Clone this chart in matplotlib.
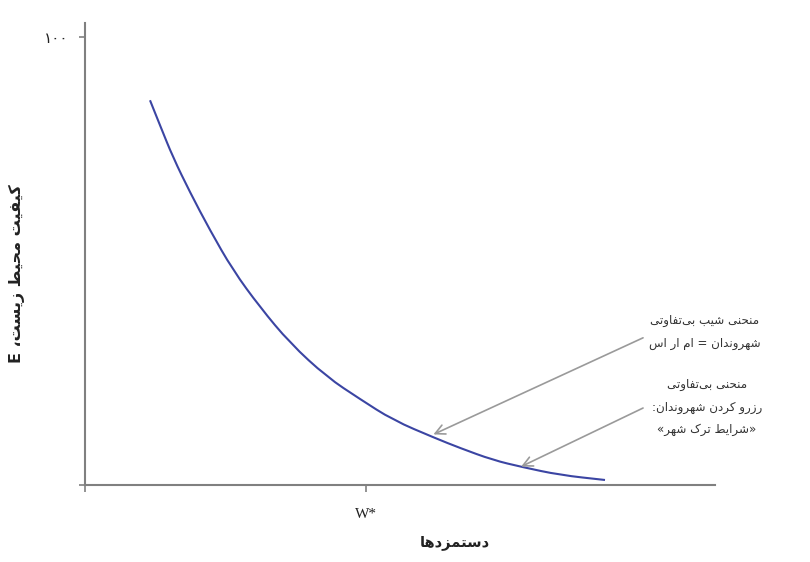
import matplotlib
matplotlib.use('Agg')
import matplotlib.pyplot as plt
from matplotlib.path import Path
from matplotlib.patches import PathPatch

# ---------------- data ----------------
wage = [11.57, 13.47, 15.66, 18.68, 22.24, 26.33, 31.14, 36.48, 43.06, 48.93, 54.80,
        62.28, 66.73, 72.60, 77.76, 84.52, 92.53]
env = [85.92, 79.96, 73.18, 65.36, 56.87, 47.93, 39.66, 31.62, 24.02, 19.11, 14.41,
       10.39, 8.16, 5.47, 3.91, 2.12, 1.01]
x_ticks = [0, 50]
x_tick_labels = ['', 'W*']
y_ticks = [0, 100]
y_tick_labels = ['', '۱۰۰']
x_label = 'دستمزدها'
y_label = 'کیفیت محیط زیست، E'
note1 = ['منحنی شیب بی‌تفاوتی', 'شهروندان = ام ار اس']
note2 = ['منحنی بی‌تفاوتی', 'رزرو کردن شهروندان:', '«شرایط ترک شهر»']

# ---------------- minimal Persian shaping (visual order) ----------------
FORMS = {
    '\u0627': ('\uFE8D', '\uFE8E', None, None),
    '\u0628': ('\uFE8F', '\uFE90', '\uFE91', '\uFE92'),
    '\u062A': ('\uFE95', '\uFE96', '\uFE97', '\uFE98'),
    '\u062D': ('\uFEA1', '\uFEA2', '\uFEA3', '\uFEA4'),
    '\u062F': ('\uFEA9', '\uFEAA', None, None),
    '\u0631': ('\uFEAD', '\uFEAE', None, None),
    '\u0632': ('\uFEAF', '\uFEB0', None, None),
    '\u0633': ('\uFEB1', '\uFEB2', '\uFEB3', '\uFEB4'),
    '\u0634': ('\uFEB5', '\uFEB6', '\uFEB7', '\uFEB8'),
    '\u0637': ('\uFEC1', '\uFEC2', '\uFEC3', '\uFEC4'),
    '\u0641': ('\uFED1', '\uFED2', '\uFED3', '\uFED4'),
    '\u0645': ('\uFEE1', '\uFEE2', '\uFEE3', '\uFEE4'),
    '\u0646': ('\uFEE5', '\uFEE6', '\uFEE7', '\uFEE8'),
    '\u0647': ('\uFEE9', '\uFEEA', '\uFEEB', '\uFEEC'),
    '\u0648': ('\uFEED', '\uFEEE', None, None),
    '\u06A9': ('\uFB8E', '\uFB8F', '\uFB90', '\uFB91'),
    '\u06CC': ('\uFBFC', '\uFBFD', '\uFBFE', '\uFBFF'),
}
MIRROR = {'«': '»', '»': '«', '(': ')', ')': '('}


def dual(c):
    return c in FORMS and FORMS[c][2] is not None


def rtl(s):
    out = []
    n = len(s)
    for i, c in enumerate(s):
        if c not in FORMS:
            if c != '\u200c':
                out.append(MIRROR.get(c, c))
            continue
        prev = s[i - 1] if i > 0 else ''
        nxt = s[i + 1] if i < n - 1 else ''
        jp = dual(prev)
        jn = dual(c) and (nxt in FORMS)
        iso, fin, ini, med = FORMS[c]
        if jp and jn:
            g = med
        elif jp:
            g = fin
        elif jn:
            g = ini
        else:
            g = iso
        out.append(g)
    return ''.join(reversed(out))


def smooth_path(xs, ys):
    """Quadratic Bezier through midpoints of the read points (line smoothing)."""
    pts = list(zip(xs, ys))
    verts = [pts[0]]
    codes = [Path.MOVETO]
    mid = lambda a, b: ((a[0] + b[0]) / 2, (a[1] + b[1]) / 2)
    verts.append(mid(pts[0], pts[1]))
    codes.append(Path.LINETO)
    for i in range(1, len(pts) - 1):
        verts += [pts[i], mid(pts[i], pts[i + 1])]
        codes += [Path.CURVE3, Path.CURVE3]
    verts.append(pts[-1])
    codes.append(Path.LINETO)
    return Path(verts, codes)


# ---------------- figure ----------------
fig = plt.figure(figsize=(8.1, 5.62), dpi=100)
ax = fig.add_axes([0.1049, 0.1379, 0.7778, 0.8212])
ax.set_xlim(0, 112.1)
ax.set_ylim(0, 103.2)

ax.add_patch(PathPatch(smooth_path(wage, env), facecolor='none', edgecolor='#3b45a3',
                       lw=1.5, capstyle='butt'))

spine_c = '#808080'
for s in ['top', 'right']:
    ax.spines[s].set_visible(False)
for s in ['left', 'bottom']:
    ax.spines[s].set_color(spine_c)
    ax.spines[s].set_linewidth(1.5)

ax.set_xticks(x_ticks)
ax.set_xticklabels(x_tick_labels, fontfamily='Liberation Serif', fontsize=11, color='#222222')
ax.set_yticks(y_ticks)
ax.set_yticklabels(y_tick_labels, fontfamily='DejaVu Sans', fontsize=11, color='#222222')
ax.tick_params(axis='x', length=5, width=1.2, color=spine_c, pad=12)
ax.tick_params(axis='y', length=4, width=1.2, color=spine_c, pad=8)

fig.text(455 / 810, 1 - 543 / 562, rtl(x_label), fontfamily='DejaVu Sans', fontweight='bold',
         fontsize=10.5, ha='center', va='center', color='#222222')
fig.text(17 / 810, 1 - 274 / 562, rtl(y_label), fontfamily='DejaVu Sans', fontweight='bold',
         fontsize=11.5, ha='center', va='center', rotation=90, color='#222222')

# annotations
arrow_c = '#9a9a9a'
arrowprops = dict(arrowstyle='->,head_length=0.7,head_width=0.35', color=arrow_c, lw=1.2,
                  shrinkA=0, shrinkB=0)
ax.annotate('', xy=(62.0, 11.2), xytext=(99.3, 32.8), arrowprops=arrowprops, annotation_clip=False)
ax.annotate('', xy=(77.6, 4.0), xytext=(99.3, 17.1), arrowprops=arrowprops, annotation_clip=False)

ax.text(110.3, 34.1, '\n'.join(rtl(t) for t in note1), fontfamily='DejaVu Sans', fontsize=8.6,
        ha='center', va='center', linespacing=1.95, color='#333333', clip_on=False)
ax.text(110.7, 17.3, '\n'.join(rtl(t) for t in note2), fontfamily='DejaVu Sans', fontsize=8.6,
        ha='center', va='center', linespacing=1.95, color='#333333', clip_on=False)

fig.savefig('out.png', dpi=100)
